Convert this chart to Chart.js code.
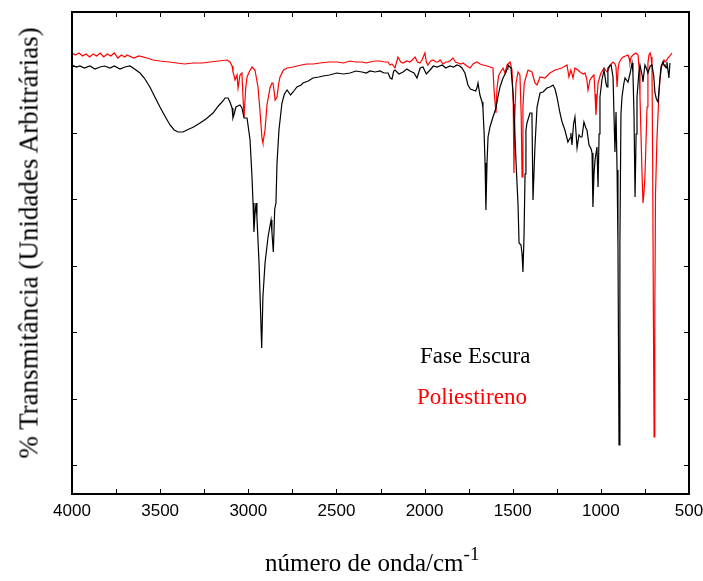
<!DOCTYPE html>
<html>
<head>
<meta charset="utf-8">
<script src="https://cdn.jsdelivr.net/npm/chart.js@4.4.1/dist/chart.umd.min.js"></script>
<style>
  html, body { margin: 0; padding: 0; background: #fff; }
  #wrap { position: relative; width: 703px; height: 581px; }
  .lbl { position: absolute; font-family: "Liberation Serif", "Times New Roman", serif; white-space: nowrap; }
</style>
</head>
<body>
<div id="wrap">
  <canvas id="chart" width="703" height="581"></canvas>
  <div class="lbl" id="ytitle" style="font-size:27px;line-height:27px;left:29px;top:243px;transform:translate(-50%,-50%) rotate(-90deg);">% Transmitância (Unidades Arbitrárias)</div>
  <div class="lbl" style="font-size:25px;line-height:25px;left:265px;top:550px;">número de onda/cm<span style="font-size:19px;position:relative;top:-11px;">-1</span></div>
  <div class="lbl" style="font-size:23px;line-height:23px;left:420px;top:344px;color:#000;">Fase Escura</div>
  <div class="lbl" style="font-size:23px;line-height:23px;left:417px;top:385px;color:#ff0000;">Poliestireno</div>
</div>
<script>
// wavenumber (cm-1) and transmittance (arbitrary units)
const blackWn = [4000,3975,3955,3930,3898,3870,3841,3815,3784,3760,3728,3700,3671,3645,3614,3590,3558,3530,3501,3470,3444,3420,3399,3370,3348,3310,3274,3240,3200,3170,3143,3132,3115,3104,3092,3087,3080,3070,3047,3036,3024,3007,2990,2979,2973,2968,2962,2956,2951,2939,2924,2917,2905,2888,2871,2866,2858,2850,2843,2837,2826,2809,2795,2780,2760,2746,2724,2700,2690,2660,2633,2600,2576,2540,2497,2460,2423,2390,2355,2330,2310,2280,2253,2230,2207,2195,2185,2175,2168,2145,2122,2100,2083,2060,2043,2025,2009,1990,1969,1950,1929,1900,1880,1856,1835,1816,1800,1788,1771,1754,1740,1725,1710,1703,1697,1686,1674,1669,1662,1657,1652,1646,1640,1629,1612,1595,1584,1572,1555,1540,1532,1527,1510,1498,1490,1481,1470,1464,1453,1447,1442,1436,1430,1425,1419,1402,1391,1385,1374,1362,1345,1328,1306,1289,1271,1260,1249,1232,1220,1204,1187,1175,1170,1164,1155,1147,1135,1124,1115,1107,1096,1085,1079,1067,1055,1050,1045,1039,1033,1022,1016,1010,1005,994,982,970,965,960,950,942,931,920,914,908,903,897,892,886,880,870,863,846,835,823,818,812,806,800,795,785,778,765,761,750,740,733,720,710,700,693,685,676,665,659,648,640,636,630,625,614,608];
const blackT = [429,427,428,426,428,425,427,428,426,428,425,427,428,425,421,416,407,397,387,377,369,364,362,362,364,367,371,375,381,388,393,396,396,392,386,376,380,387,389,386,376,376,354,317,291,262,280,291,277,231,146,197,231,257,274,262,242,285,291,331,364,391,400,404,399,402,407,409,411,413,416,417,418,419,421,420,421,423,422,421,423,422,423,421,421,416,415,423,424,420,422,425,423,421,416,426,427,420,424,428,427,429,426,428,427,429,428,426,421,409,405,404,403,406,411,399,392,386,360,331,284,330,357,367,377,386,397,407,416,421,425,429,426,401,370,331,290,251,249,240,222,257,320,364,371,381,381,294,347,387,401,402,406,407,409,405,397,381,372,364,352,356,361,349,370,377,346,359,357,357,372,366,364,349,345,341,287,320,334,347,307,360,397,414,424,410,407,426,428,429,417,342,382,324,250,49,250,380,397,410,416,412,420,431,421,380,297,360,397,420,429,418,412,429,425,421,428,429,418,401,395,392,415,427,432,428,429,426,432,416,431];

const redWn = [4000,3980,3960,3940,3920,3900,3880,3860,3840,3820,3800,3780,3760,3740,3720,3700,3688,3650,3620,3575,3540,3501,3450,3405,3360,3314,3260,3217,3170,3121,3104,3092,3087,3080,3075,3064,3058,3047,3036,3030,3024,3015,3007,2995,2979,2962,2945,2934,2922,2917,2905,2894,2877,2866,2860,2852,2848,2837,2828,2820,2800,2780,2746,2700,2667,2630,2593,2540,2497,2460,2423,2390,2355,2330,2310,2280,2253,2225,2207,2196,2185,2168,2151,2135,2122,2100,2083,2070,2054,2040,2026,2015,1998,1990,1981,1965,1952,1935,1924,1912,1895,1880,1867,1850,1839,1825,1810,1795,1782,1760,1742,1725,1703,1685,1669,1645,1629,1612,1606,1595,1589,1580,1572,1555,1544,1532,1515,1504,1497,1493,1488,1481,1470,1459,1452,1447,1442,1435,1425,1413,1391,1374,1362,1345,1317,1289,1260,1221,1192,1181,1170,1158,1147,1130,1118,1100,1090,1080,1073,1062,1050,1039,1033,1028,1022,1016,1005,999,982,965,955,948,931,920,914,908,902,897,885,874,860,846,840,835,828,818,801,789,783,778,767,761,756,750,738,733,727,721,715,710,706,702,698,694,690,682,672,665,655,648,642,636,631,625,620,614,605,597];
const redT = [441,439,441,438,440,437,440,438,441,437,440,438,441,436,439,437,439,436,438,436,434,433,432,431,430,431,431,432,433,434,432,428,422,418,414,419,406,419,421,397,377,405,417,422,427,424,407,384,355,351,364,389,406,411,411,401,394,397,410,417,424,426,427,429,430,430,431,432,432,431,433,432,432,431,432,433,433,432,432,429,430,426,437,432,431,433,432,434,437,432,431,434,441,432,429,433,434,432,432,434,430,432,432,434,436,432,431,430,431,428,426,430,432,430,429,428,427,426,404,381,406,418,421,426,421,429,432,424,390,321,380,411,422,419,380,317,387,410,417,424,422,411,409,417,416,421,424,426,429,417,424,416,426,424,422,420,421,415,404,414,417,419,400,379,395,411,418,421,426,422,425,429,432,430,427,407,425,431,435,437,438,439,436,431,437,439,441,439,425,397,324,291,300,317,387,431,439,441,437,427,330,180,57,180,300,354,395,414,428,431,434,432,432,434,436,437,439,441];

const xTickLabels = [4000, 3500, 3000, 2500, 2000, 1500, 1000, 500];
const yTicks = [29, 95.5, 162, 228.5, 295, 361.5, 428];

const toPoints = (wn, t) => wn.map((w, i) => ({ x: w, y: t[i] }));

// frame and inward ticks on all four sides
const framePlugin = {
  id: 'frame',
  afterDatasetsDraw(chart) {
    const { ctx, chartArea: a, scales } = chart;
    ctx.save();
    ctx.strokeStyle = '#000';
    ctx.lineWidth = 1;
    ctx.beginPath();
    for (let v = 500; v <= 4000; v += 250) {
      const px = Math.round(scales.x.getPixelForValue(v)) + 0.5;
      ctx.moveTo(px, a.bottom); ctx.lineTo(px, a.bottom - 5);
      ctx.moveTo(px, a.top); ctx.lineTo(px, a.top + 5);
    }
    yTicks.forEach(v => {
      const py = Math.round(scales.y.getPixelForValue(v)) + 0.5;
      ctx.moveTo(a.left, py); ctx.lineTo(a.left + 5, py);
      ctx.moveTo(a.right, py); ctx.lineTo(a.right - 5, py);
    });
    ctx.stroke();
    ctx.lineWidth = 2;
    ctx.strokeRect(a.left, a.top, a.right - a.left, a.bottom - a.top);
    ctx.restore();
  }
};

new Chart(document.getElementById('chart'), {
  type: 'line',
  data: {
    datasets: [
      { label: 'Fase Escura', data: toPoints(blackWn, blackT), borderColor: '#000000', borderWidth: 1.2, pointRadius: 0, tension: 0 },
      { label: 'Poliestireno', data: toPoints(redWn, redT), borderColor: '#ff0000', borderWidth: 1.2, pointRadius: 0, tension: 0 }
    ]
  },
  options: {
    responsive: false,
    devicePixelRatio: 1,
    animation: false,
    layout: { padding: { top: 12, right: 14, left: 0, bottom: 0 } },
    plugins: { legend: { display: false }, tooltip: { enabled: false } },
    scales: {
      x: {
        type: 'linear', min: 500, max: 4000, reverse: true,
        afterFit: s => { s.height = 87; s.paddingLeft = 0; s.paddingRight = 0; },
        afterBuildTicks: s => { s.ticks = xTickLabels.map(v => ({ value: v })); },
        grid: { display: false, drawTicks: false },
        border: { display: false },
        ticks: { color: '#000', padding: 7, maxRotation: 0, autoSkip: false, font: { family: 'Liberation Sans', size: 17 }, callback: v => String(v) }
      },
      y: {
        min: 0, max: 482,
        afterFit: s => { s.width = 72; },
        grid: { display: false, drawTicks: false },
        border: { display: false },
        ticks: { display: false }
      }
    }
  },
  plugins: [framePlugin]
});
</script>
</body>
</html>
